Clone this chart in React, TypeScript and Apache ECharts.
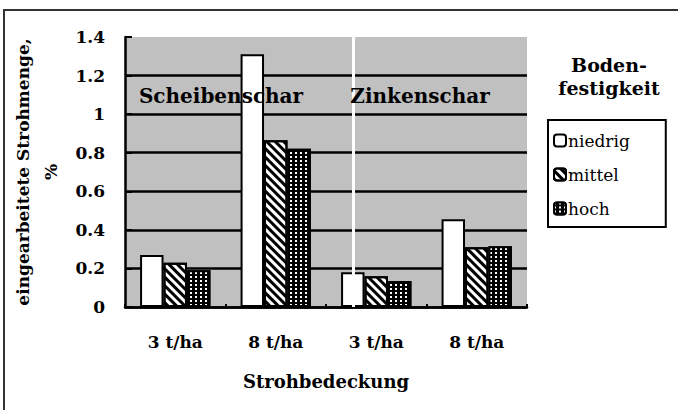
import React, { useEffect, useRef } from "react";
import * as echarts from "echarts";

const categories = ["3 t/ha", "8 t/ha", "3 t/ha", "8 t/ha"];
const seriesNames = ["niedrig", "mittel", "hoch"];
const niedrig = [0.27, 1.31, 0.18, 0.455];
const mittel = [0.23, 0.865, 0.16, 0.31];
const hoch = [0.19, 0.82, 0.135, 0.315];
const groupLabels = ["Scheibenschar", "Zinkenschar"];
const groupBoundary = 1.53; // between the two tillage groups (category index)
const legendTitle = "Boden-\nfestigkeit";
const yAxisTitle = "eingearbeitete Strohmenge,\n%";
const xAxisTitle = "Strohbedeckung";

const FONT = "DejaVu Serif";

export default function App() {
  const ref = useRef<HTMLDivElement>(null);
  useEffect(() => {
    if (!ref.current) return;
    const chart = echarts.init(ref.current, undefined, { renderer: "svg" });
    const barBase = {
      type: "bar" as const,
      barGap: "0%",
      barCategoryGap: "30%",
    };
    chart.setOption({
      animation: false,
      backgroundColor: "#fff",
      textStyle: { fontFamily: FONT },
      grid: {
        left: 125,
        top: 37,
        right: 151,
        bottom: 103,
        show: true,
        backgroundColor: "#c0c0c0",
        borderWidth: 0,
      },
      legend: {
        orient: "vertical",
        left: 548,
        top: 120,
        data: seriesNames,
        itemWidth: 12,
        itemHeight: 12,
        itemGap: 17,
        borderColor: "#000",
        borderWidth: 2,
        padding: [12, 36, 10, 5],
        textStyle: { fontFamily: FONT, fontSize: 17, color: "#000", padding: [0, 0, 0, -3] },
      },
      xAxis: {
        type: "category",
        data: categories,
        axisLine: { lineStyle: { color: "#000", width: 2.5 } },
        axisTick: { show: true, inside: true, length: 3, lineStyle: { color: "#000", width: 2 } },
        axisLabel: {
          color: "#000",
          fontFamily: FONT,
          fontSize: 17,
          fontWeight: "bold",
          margin: 26,
        },
        splitLine: { show: false },
        name: xAxisTitle,
        nameLocation: "middle",
        nameGap: 65,
        nameTextStyle: { color: "#000", fontFamily: FONT, fontSize: 18, fontWeight: "bold" },
        z: 3,
      },
      yAxis: {
        type: "value",
        min: 0,
        max: 1.4,
        interval: 0.2,
        axisLine: { show: true, lineStyle: { color: "#000", width: 2.5 } },
        axisTick: { show: true, inside: true, length: 7, lineStyle: { color: "#000", width: 2 } },
        axisLabel: {
          color: "#000",
          fontFamily: FONT,
          fontSize: 17,
          fontWeight: "bold",
          margin: 20,
          formatter: (v: number) => String(Math.round(v * 10) / 10),
        },
        splitLine: {
          show: true,
          showMaxLine: false,
          lineStyle: { color: "#000", width: 2.5 },
        },
        name: yAxisTitle,
        nameLocation: "middle",
        nameGap: 60,
        nameRotate: 90,
        nameTextStyle: {
          color: "#000",
          fontFamily: FONT,
          fontSize: 17,
          fontWeight: "bold",
          lineHeight: 28,
        },
      },
      series: [
        {
          ...barBase,
          name: seriesNames[0],
          data: niedrig,
          itemStyle: { color: "#fff", borderColor: "#000", borderWidth: 2 },
          markLine: {
            silent: true,
            symbol: "none",
            label: { show: false },
            lineStyle: { color: "#fff", width: 3, type: "solid" },
            data: [{ xAxis: groupBoundary }],
          },
        },
        {
          ...barBase,
          name: seriesNames[1],
          data: mittel,
          itemStyle: {
            color: "#fff",
            borderColor: "#000",
            borderWidth: 2,
            decal: {
              symbol: "rect",
              symbolSize: 1,
              color: "#000",
              backgroundColor: "#fff",
              dashArrayX: [1, 0],
              dashArrayY: [3, 3],
              rotation: Math.PI / 4,
            },
          },
        },
        {
          ...barBase,
          name: seriesNames[2],
          data: hoch,
          itemStyle: {
            color: "#000",
            borderColor: "#000",
            borderWidth: 2,
            decal: {
              symbol: "rect",
              symbolSize: 1,
              color: "#fff",
              backgroundColor: "#000",
              dashArrayX: [2, 3],
              dashArrayY: [2, 2],
              rotation: 0,
            },
          },
        },
      ],
      graphic: [
        {
          type: "polyline",
          shape: { points: [[4, 410], [4, 10], [678, 10]] },
          style: { stroke: "#333", lineWidth: 2, fill: "none" },
          silent: true,
        },
        {
          type: "text",
          x: 221,
          y: 96,
          z: 100,
          style: {
            text: groupLabels[0],
            fontFamily: FONT,
            fontSize: 20,
            fontWeight: "bold",
            fill: "#000",
            align: "center",
            verticalAlign: "middle",
          },
        },
        {
          type: "text",
          x: 420,
          y: 96,
          z: 100,
          style: {
            text: groupLabels[1],
            fontFamily: FONT,
            fontSize: 20,
            fontWeight: "bold",
            fill: "#000",
            align: "center",
            verticalAlign: "middle",
          },
        },
        {
          type: "text",
          x: 609,
          y: 76,
          style: {
            text: legendTitle,
            fontFamily: FONT,
            fontSize: 19,
            fontWeight: "bold",
            lineHeight: 23,
            fill: "#000",
            align: "center",
            verticalAlign: "middle",
          },
        },
      ],
    });
    return () => chart.dispose();
  }, []);
  return <div ref={ref} style={{ width: 678, height: 410, position: "absolute", left: 0, top: 0 }} />;
}
